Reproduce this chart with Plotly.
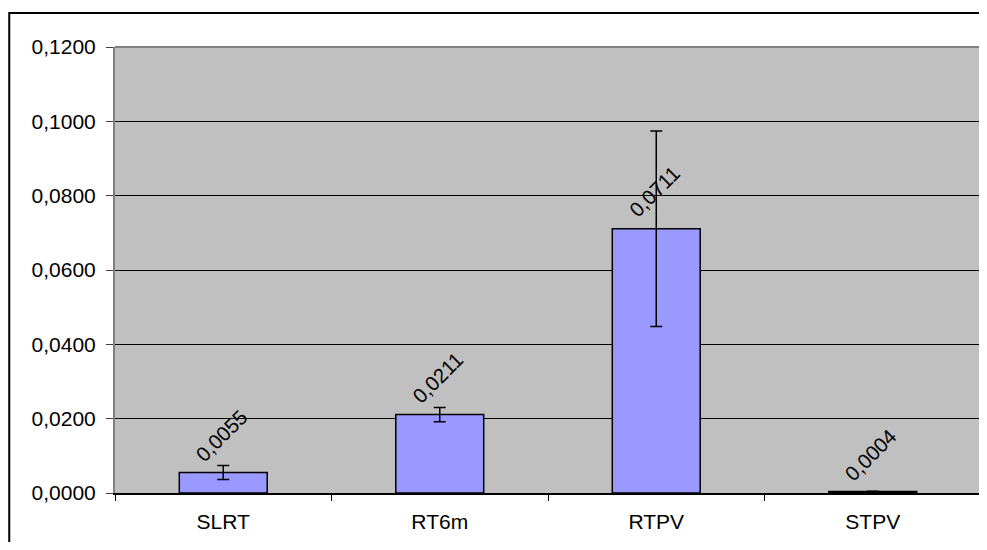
import plotly.graph_objects as go

categories = ["SLRT", "RT6m", "RTPV", "STPV"]
values = [0.0055, 0.0211, 0.0711, 0.0004]
errors = [0.0019, 0.0019, 0.0263, 0.0001]
y_ticks = [0.0, 0.02, 0.04, 0.06, 0.08, 0.10, 0.12]

FONT = "Liberation Sans, Arial, sans-serif"

fig = go.Figure()
fig.add_trace(go.Bar(
    x=categories, y=values,
    marker=dict(color="#9999FF", line=dict(color="black", width=1.5)),
    error_y=dict(type="data", array=errors, visible=True, color="black",
                 thickness=1.5, width=6),
    width=0.406,
))

for c, v in zip(categories, values):
    fig.add_annotation(x=c, y=v, text=f"{v:.4f}".replace(".", ","),
                       showarrow=False, textangle=-45, xanchor="center",
                       yanchor="middle", yshift=37, xshift=-2,
                       font=dict(family=FONT, size=20.5, color="black"))

# plot-area top border (gray)
fig.add_shape(type="line", xref="paper", yref="paper", x0=0, x1=1, y0=1, y1=1,
              line=dict(color="#808080", width=2), layer="above")
# outer chart border
fig.add_shape(type="rect", xref="paper", yref="paper",
              x0=(9 - 115) / 868, x1=(1000 - 115) / 868,
              y0=(493 - 560) / 446, y1=(493 - 13) / 446,
              line=dict(color="black", width=2), layer="above")

fig.update_layout(
    width=979, height=534,
    margin=dict(l=107, r=4, t=39, b=49),
    paper_bgcolor="white", plot_bgcolor="#C0C0C0",
    separators=", ",
    showlegend=False,
    font=dict(family=FONT, size=21, color="black"),
    bargap=0.594,
)
fig.update_xaxes(
    type="category", showline=True, linecolor="black", linewidth=1.5,
    ticks="outside", tickson="boundaries", ticklen=6, tickcolor="black",
    showgrid=False, ticklabelstandoff=9,
    tickfont=dict(family=FONT, size=21, color="black"),
)
fig.update_yaxes(
    range=[0, 0.12], tickvals=y_ticks, tickformat=".4f",
    showline=True, linecolor="#808080", linewidth=2, mirror=True,
    ticks="outside", ticklen=7, tickcolor="#404040",
    showgrid=True, gridcolor="black", gridwidth=1, zeroline=False,
    ticklabelstandoff=6,
    tickfont=dict(family=FONT, size=21, color="black"),
)

fig.write_html("out.html")
